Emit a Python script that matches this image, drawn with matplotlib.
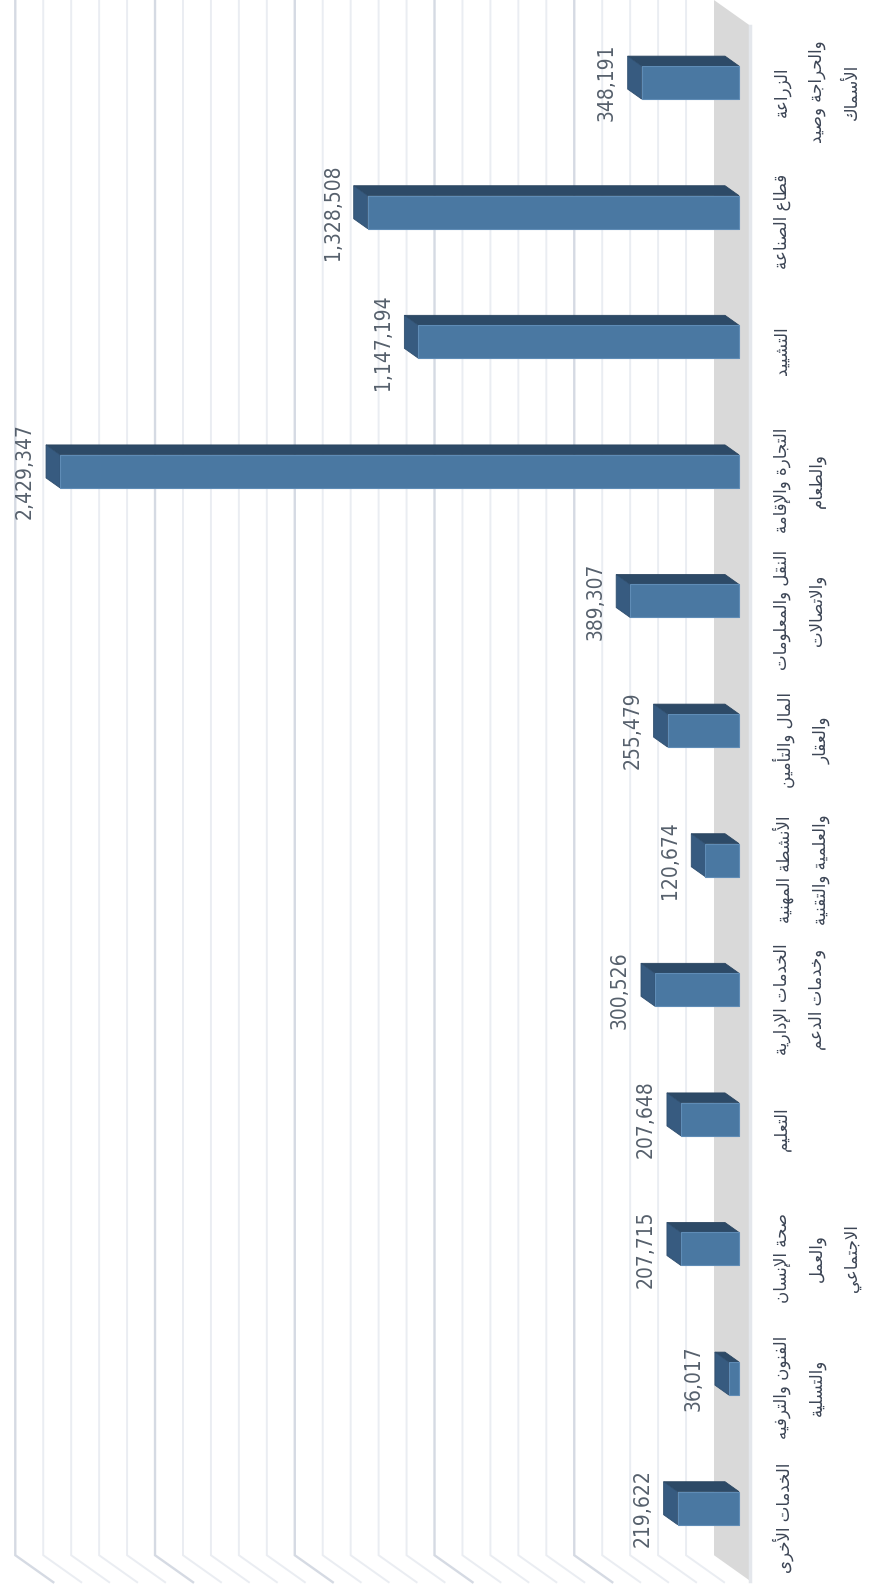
import numpy as np
import matplotlib
matplotlib.use("Agg")
import matplotlib.pyplot as plt
from matplotlib import font_manager
from matplotlib.patches import Polygon

# data, top to bottom as in the picture
sectors = [
    "الزراعة\nوالحراجة وصيد\nالأسماك",
    "قطاع الصناعة",
    "التشييد",
    "التجارة والإقامة\nوالطعام",
    "النقل والمعلومات\nوالاتصالات",
    "المال والتأمين\nوالعقار",
    "الأنشطة المهنية\nوالعلمية والتقنية",
    "الخدمات الإدارية\nوخدمات الدعم",
    "التعليم",
    "صحة الإنسان\nوالعمل\nالاجتماعي",
    "الفنون والترفيه\nوالتسلية",
    "الخدمات الأخرى",
]
workers = [348191, 1328508, 1147194, 2429347, 389307, 255479,
           120674, 300526, 207648, 207715, 36017, 219622]
grid_vals = list(range(100000, 2600000, 100000))

# --- simple arabic shaping (presentation forms + right-to-left order)
DUAL = {'ئ': 0xFE89, 'ب': 0xFE8F, 'ت': 0xFE95, 'ث': 0xFE99, 'ج': 0xFE9D,
        'ح': 0xFEA1, 'خ': 0xFEA5, 'س': 0xFEB1, 'ش': 0xFEB5, 'ص': 0xFEB9,
        'ض': 0xFEBD, 'ط': 0xFEC1, 'ظ': 0xFEC5, 'ع': 0xFEC9, 'غ': 0xFECD,
        'ف': 0xFED1, 'ق': 0xFED5, 'ك': 0xFED9, 'ل': 0xFEDD, 'م': 0xFEE1,
        'ن': 0xFEE5, 'ه': 0xFEE9, 'ي': 0xFEF1}
RIGHT = {'آ': 0xFE81, 'أ': 0xFE83, 'ؤ': 0xFE85, 'إ': 0xFE87, 'ا': 0xFE8D,
         'ة': 0xFE93, 'د': 0xFEA9, 'ذ': 0xFEAB, 'ر': 0xFEAD, 'ز': 0xFEAF,
         'و': 0xFEED, 'ى': 0xFEEF}
LAMALEF = {'آ': 0xFEF5, 'أ': 0xFEF7, 'إ': 0xFEF9, 'ا': 0xFEFB}


def shape_line(line):
    units = []
    k = 0
    while k < len(line):
        c = line[k]
        if c == 'ل' and k + 1 < len(line) and line[k + 1] in LAMALEF:
            units.append(('R', LAMALEF[line[k + 1]]))
            k += 2
            continue
        if c in DUAL:
            units.append(('D', DUAL[c]))
        elif c in RIGHT:
            units.append(('R', RIGHT[c]))
        else:
            units.append(('N', c))
        k += 1
    out = []
    for n, u in enumerate(units):
        if u[0] == 'N':
            out.append(u[1])
            continue
        prev_j = n > 0 and units[n - 1][0] == 'D'
        next_j = u[0] == 'D' and n + 1 < len(units) and units[n + 1][0] in 'DR'
        if u[0] == 'R':
            off = 1 if prev_j else 0
        else:
            off = 3 if (prev_j and next_j) else 1 if prev_j else 2 if next_j else 0
        out.append(chr(u[1] + off))
    return ''.join(reversed(out))


def shape(txt):
    return '\n'.join(shape_line(l) for l in txt.split('\n'))


names = {f.name for f in font_manager.fontManager.ttflist}
if 'Liberation Sans Narrow' in names:
    num_font = dict(family='Liberation Sans Narrow', fontsize=17)
else:
    num_font = dict(family='DejaVu Sans', fontstretch='condensed', fontsize=15)

# oblique projection: value axis leftwards, depth goes up-left
S = 3578.0            # value units per pixel
SLOT = 129.6          # pixels per category
DY = 0.71 / SLOT      # category units per depth pixel
W, H = 894, 1589


def P(v, d, i):
    return (v + d * S, i - DY * d)


fig = plt.figure(figsize=(W / 100, H / 100), dpi=100)
ax = fig.add_axes([0, 0, 1, 1])
ax.set_xlim(752 * S, (752 - W) * S)
ax.set_ylim((H - 91.8) / SLOT, -91.8 / SLOT)
ax.axis('off')

n = len(workers)
lo, hi = -0.5, n - 0.5

# back wall + side wall gridlines
for v in grid_vals:
    major = v % 500000 == 0
    pts = [P(v, 38, -2), P(v, 38, hi), P(v, 0, hi)]
    ax.plot([p[0] for p in pts], [p[1] for p in pts],
            color='#D5DAE3' if major else '#EAEDF2',
            lw=1.7 if major else 1.4, solid_joinstyle='miter', zorder=1)

# floor
floor = [P(0, 38, lo), P(0, 0, lo), P(0, 0, hi), P(0, 38, hi)]
ax.add_patch(Polygon(floor, closed=True, fc='#D9D9D9', ec='none', zorder=2))
ax.plot(*zip(P(0, 2, lo), P(0, 2, hi)), color='#E4E7EC', lw=2.5, zorder=2)

h = 16.5 / SLOT
d0, d1 = 13, 27
for i, v in enumerate(workers):
    front = [P(0, d0, i - h), P(v, d0, i - h), P(v, d0, i + h), P(0, d0, i + h)]
    top = [P(0, d0, i - h), P(v, d0, i - h), P(v, d1, i - h), P(0, d1, i - h)]
    end = [P(v, d0, i - h), P(v, d0, i + h), P(v, d1, i + h), P(v, d1, i - h)]
    ax.add_patch(Polygon(top, closed=True, fc='#2D4A67', ec='#2A4560', lw=0.6, zorder=3))
    ax.add_patch(Polygon(end, closed=True, fc='#375B80', ec='#2F4E6E', lw=0.6, zorder=3))
    ax.add_patch(Polygon(front, closed=True, fc='#4A78A2', ec='#5F8CB6', lw=0.8, zorder=4))

    ax.annotate(f"{v:,}", xy=(P(v, d1, i)[0], P(v, d0, i)[1]),
                xytext=(-11, 0), textcoords='offset pixels',
                rotation=90, ha='right', va='center', color='#56606C',
                zorder=5, **num_font)

    ax.text(-21 * S, i, shape(sectors[i]), rotation=90, ha='left', va='center',
            multialignment='center', fontsize=12, linespacing=2.2,
            family=['DejaVu Sans'], color='#3C4555', zorder=5)

fig.savefig('out.png', dpi=100)
